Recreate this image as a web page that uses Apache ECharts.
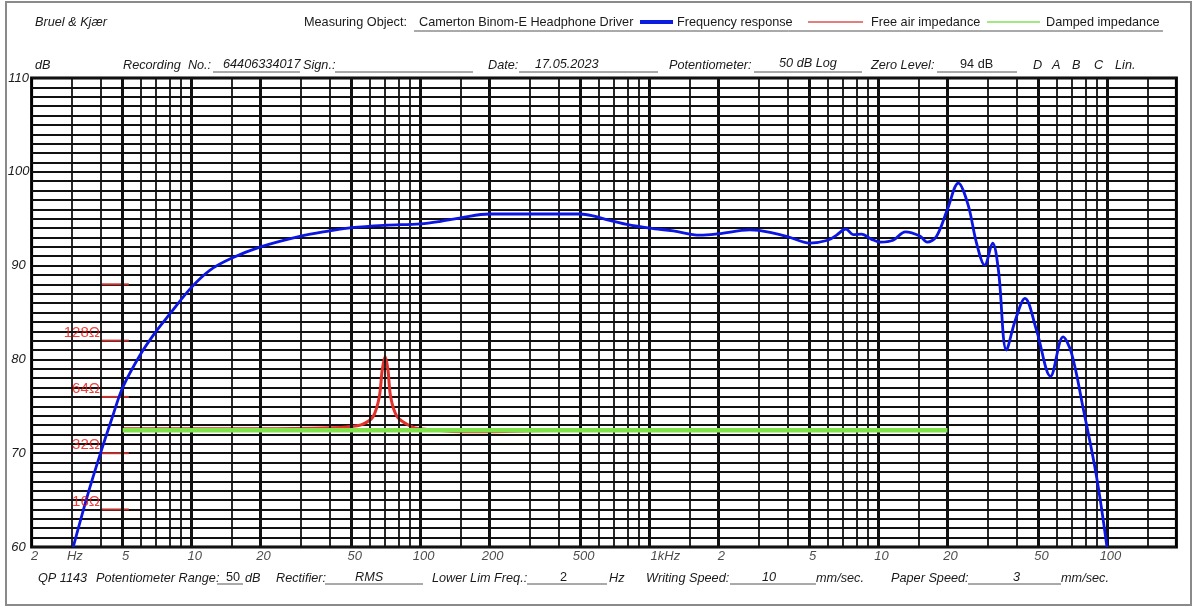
<!DOCTYPE html>
<html>
<head>
<meta charset="utf-8">
<script src="https://cdn.jsdelivr.net/npm/echarts@6/dist/echarts.min.js"></script>
<style>
  html, body { margin: 0; padding: 0; background: #fff; }
  #main { width: 1200px; height: 609px; }
</style>
</head>
<body>
<div id="main"></div>
<script>
// Frequency response (blue)
var respFreq = [3.04, 3.5, 4, 4.5, 5, 6, 7, 8, 10, 12, 15, 20, 30, 40, 50, 70, 100, 121, 150, 200, 300, 500,
  567, 648, 794, 1000, 1270, 1660, 2000, 2740, 3000, 4000, 5000, 6000, 6560, 7200, 7750, 8430, 9330, 10200,
  11580, 13100, 15150, 16300, 17900, 20000, 22300, 24600, 26800, 29100, 31500, 33400, 36200, 39600, 43600,
  49000, 56400, 64000, 69700, 78300, 89600, 99500];
var respLevel = [60.0, 65.4, 70.0, 73.8, 77.0, 80.6, 83.0, 84.8, 87.7, 89.5, 90.8, 92.0, 93.15, 93.7, 94.05, 94.3, 94.45, 94.7, 95.1, 95.5, 95.5, 95.5,
  95.3, 94.9, 94.4, 94.0, 93.7, 93.25, 93.4, 93.8, 93.75, 93.1, 92.4, 92.7, 93.25, 93.9, 93.3, 93.35, 92.8, 92.5,
  92.7, 93.6, 93.15, 92.5, 93.1, 96.0, 98.8, 96.5, 92.4, 90.05, 92.4, 89.5, 81.0, 84.2, 86.5,
  83.1, 78.2, 82.4, 80.65, 74.8, 67.5, 60.0];

// Free air impedance (red)
var freeFreq = [5, 20, 40, 50, 56, 62, 66, 68, 70, 72, 74, 79, 90, 100, 150, 200, 300, 1000, 20000];
var freeLevel = [72.6, 72.6, 72.7, 72.85, 73.1, 73.9, 76.0, 78.9, 80.3, 78.9, 76.0, 73.9, 72.9, 72.6, 72.3, 72.3, 72.4, 72.5, 72.5];

// Damped impedance (green)
var dampFreq = [5, 20000];
var dampLevel = [72.45, 72.45];

// Impedance reference marks
var ohmLevels = [88, 82, 76, 70, 64];
var ohmNames = ['', '128Ω', '64Ω', '32Ω', '16Ω'];
var ohmFreq = [4.02, 5.32];

// Frequency tick labels
var tickFreq = [2, 3, 5, 10, 20, 50, 100, 200, 500, 1000, 2000, 5000, 10000, 20000, 50000, 100000];
var tickText = ['2', 'Hz', '5', '10', '20', '50', '100', '200', '500', '1kHz', '2', '5', '10', '20', '50', '100'];

// Paper grid steps inside each decade
var gridDecades = [1, 10, 100, 1000, 10000, 100000];
var gridSteps = [1, 1.5, 2, 3, 4, 5, 6, 7, 8, 9];
var heavySteps = [1, 2, 5];

var chartDom = document.getElementById('main');
var myChart = echarts.init(chartDom);

function pairs(fs, ls) {
  return fs.map(function (f, i) { return [f, ls[i]]; });
}

var vLines = [];
gridDecades.forEach(function (d) {
  gridSteps.forEach(function (s) {
    var f = d * s;
    if (f <= 2 || f >= 200000) return;
    var heavy = heavySteps.indexOf(s) >= 0;
    vLines.push({ xAxis: f, lineStyle: { color: '#111', width: heavy ? 3 : 1.8, type: 'solid' } });
  });
});

var FONT = '"Liberation Sans", Arial, sans-serif';

function txt(x, y, s, italic, extra) {
  var st = { text: s, fontFamily: FONT, fontSize: 12.7, fontStyle: italic ? 'italic' : 'normal',
    fill: '#1a1a1a', align: 'left', verticalAlign: 'middle' };
  if (extra) for (var k in extra) st[k] = extra[k];
  return { type: 'text', x: x, y: y, style: st, silent: true };
}
function ln(x1, y1, x2, y2, color, w) {
  return { type: 'line', shape: { x1: x1, y1: y1, x2: x2, y2: y2 }, style: { stroke: color, lineWidth: w }, silent: true };
}

var graphics = [
  { type: 'rect', shape: { x: 6, y: 2, width: 1185, height: 603 }, style: { fill: 'none', stroke: '#8a8a8a', lineWidth: 2 }, silent: true },
  // header row 1
  txt(35, 22, 'Bruel & Kjær', true),
  txt(304, 22, 'Measuring Object:', false),
  txt(419, 22, 'Camerton Binom-E Headphone Driver', false),
  ln(640, 22, 673, 22, '#0a1ee0', 4),
  txt(677, 22, 'Frequency response', false),
  ln(808, 22, 863, 22, '#d9534f', 1.5),
  txt(871, 22, 'Free air impedance', false),
  ln(987, 22, 1040, 22, '#86e05a', 1.5),
  txt(1046, 22, 'Damped impedance', false),
  ln(414, 31, 1163, 31, '#555', 1),
  // header row 2
  txt(35, 65, 'dB', true),
  txt(123, 65, 'Recording  No.:', true),
  ln(213, 72, 300, 72, '#555', 1),
  txt(223, 64, '64406334017', true),
  txt(303, 65, 'Sign.:', true),
  ln(335, 72, 473, 72, '#555', 1),
  txt(488, 65, 'Date:', true),
  ln(519, 72, 658, 72, '#555', 1),
  txt(535, 64, '17.05.2023', true),
  txt(669, 65, 'Potentiometer:', true),
  ln(754, 72, 862, 72, '#555', 1),
  txt(779, 63, '50 dB Log', true),
  txt(871, 65, 'Zero Level:', true),
  ln(937, 72, 1017, 72, '#555', 1),
  txt(960, 64, '94 dB', false),
  txt(1033, 65, 'D', true),
  txt(1052, 65, 'A', true),
  txt(1072, 65, 'B', true),
  txt(1094, 65, 'C', true),
  txt(1115, 65, 'Lin.', true),
  // footer
  txt(38, 578, 'QP 1143', true),
  txt(96, 578, 'Potentiometer Range:', true),
  ln(217, 584, 243, 584, '#555', 1),
  txt(226, 577, '50', false),
  txt(245, 578, 'dB', true),
  txt(276, 578, 'Rectifier:', true),
  ln(325, 584, 423, 584, '#555', 1),
  txt(355, 577, 'RMS', true),
  txt(432, 578, 'Lower Lim Freq.:', true),
  ln(527, 584, 607, 584, '#555', 1),
  txt(560, 577, '2', false),
  txt(609, 578, 'Hz', true),
  txt(646, 578, 'Writing Speed:', true),
  ln(730, 584, 816, 584, '#555', 1),
  txt(762, 577, '10', true),
  txt(816, 578, 'mm/sec.', true),
  txt(891, 578, 'Paper Speed:', true),
  ln(968, 584, 1061, 584, '#555', 1),
  txt(1013, 577, '3', true),
  txt(1061, 578, 'mm/sec.', true)
];

var ohmSeries = ohmLevels.map(function (lv, i) {
  return {
    name: 'ohm' + i,
    type: 'line',
    silent: true,
    symbol: 'none',
    z: 3,
    lineStyle: { color: '#c0302c', width: 2 },
    data: [[ohmFreq[0], lv], [ohmFreq[1], lv]]
  };
});

var ohmLabelSeries = {
  name: 'ohm labels', type: 'scatter', symbolSize: 0, silent: true, clip: false, z: 20,
  data: ohmLevels.map(function (lv) { return [ohmFreq[0], lv]; }),
  label: {
    show: true, position: 'left', distance: 1, offset: [0, -8],
    color: '#e8120c', fontFamily: FONT, fontSize: 15,
    formatter: function (p) { return ohmNames[p.dataIndex]; }
  }
};

var option = {
  backgroundColor: '#fff',
  animation: false,
  graphic: graphics,
  grid: { left: 31.6, right: 23.6, top: 78, bottom: 62, show: true, borderColor: '#000', borderWidth: 3, backgroundColor: 'transparent' },
  xAxis: {
    type: 'log', logBase: 10, min: 2, max: 200000,
    axisLine: { show: false }, axisTick: { show: false }, axisLabel: { show: false }, splitLine: { show: false }
  },
  yAxis: {
    type: 'value', min: 60, max: 110, interval: 1,
    axisLine: { show: false }, axisTick: { show: false },
    splitLine: { show: true, lineStyle: { color: '#111', width: 1.8 } },
    axisLabel: {
      interval: 0, margin: 13, align: 'center', color: '#1a1a1a',
      fontFamily: FONT, fontSize: 13, fontStyle: 'italic',
      formatter: function (v) { return v % 10 === 0 ? String(v) : ''; }
    }
  },
  series: [
    {
      name: 'paper grid', type: 'line', data: [], silent: true, z: 1,
      markLine: { silent: true, symbol: ['none', 'none'], label: { show: false }, animation: false, data: vLines }
    },
    {
      name: 'Free air impedance', type: 'line', smooth: 0.3, symbol: 'none', z: 4,
      lineStyle: { color: '#e2312b', width: 3 },
      data: pairs(freeFreq, freeLevel)
    },
    {
      name: 'Damped impedance', type: 'line', symbol: 'none', z: 5,
      lineStyle: { color: '#80e34a', width: 4.5 },
      data: pairs(dampFreq, dampLevel)
    },
    {
      name: 'Frequency response', type: 'line', smooth: 0.35, symbol: 'none', z: 6,
      lineStyle: { color: '#0c16e2', width: 2.8 },
      data: pairs(respFreq, respLevel)
    },
    {
      name: 'ticks', type: 'scatter', symbolSize: 0, silent: true, clip: false, z: 7,
      data: tickFreq.map(function (f, i) {
        return {
          value: [f, 60],
          label: i === 9 ? { align: 'left', offset: [1, 0] } : {}
        };
      }),
      label: {
        show: true, position: 'bottom', distance: 3, offset: [3, 0],
        color: '#1a1a1a', fontFamily: FONT, fontSize: 13, fontStyle: 'italic',
        formatter: function (p) { return tickText[p.dataIndex]; }
      }
    },
    ohmLabelSeries
  ].concat(ohmSeries)
};

myChart.setOption(option);
</script>
</body>
</html>
